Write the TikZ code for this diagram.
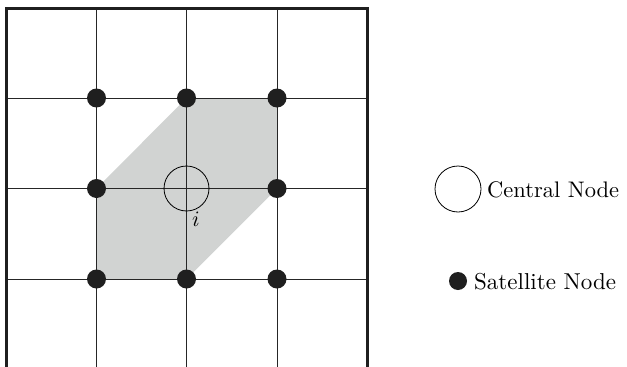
\documentclass[tikz,border=0pt]{standalone}
\begin{document}
\begin{tikzpicture}[x=1pt,y=-1pt,
  gridline/.style={line width=1pt,draw=black!85},
  frameline/.style={line width=3pt,draw=black!88},
  sat/.style={circle,fill=black!88,inner sep=0pt,minimum size=19pt},
  central/.style={circle,draw=black,line width=0.8pt,inner sep=0pt,minimum size=45pt},
  lbl/.style={inner sep=0pt}]
\useasboundingbox (0,0) rectangle (627,367);
\definecolor{hexgray}{HTML}{D1D3D2}
% shaded hexagon
\fill[hexgray] (186.5,98) -- (277,98) -- (277,188.5) -- (186.5,279) -- (96.5,279) -- (96.5,188.5) -- cycle;
% grid
\foreach \x in {96.5,186.5,277} \draw[gridline] (\x,8) -- (\x,367);
\foreach \y in {98,188.5,279} \draw[gridline] (6,\y) -- (367,\y);
% frame
\draw[frameline] (6,367) -- (6,8) -- (367,8) -- (367,367);
% central node
\node[central] (c) at (186.5,188.5) {};
\node[lbl,anchor=north] (il) at (196,212) {\scalebox{2.2}{$i$}};
% satellites
\node[sat] (s1) at (96.5,98) {};
\node[sat] (s2) at (186.5,98) {};
\node[sat] (s3) at (277,98) {};
\node[sat] (s4) at (96.5,188.5) {};
\node[sat] (s5) at (277,188.5) {};
\node[sat] (s6) at (96.5,279) {};
\node[sat] (s7) at (186.5,279) {};
\node[sat] (s8) at (277,279) {};
% legend
\node[central,minimum size=46pt] (lc) at (458,189) {};
\node[lbl,anchor=west] (lct) at (487,190) {\scalebox{2.25}{Central Node}};
\node[sat,minimum size=18pt] (ls) at (458,281) {};
\node[lbl,anchor=west] (lst) at (474,282) {\scalebox{2.3}{Satellite Node}};
\end{tikzpicture}
\end{document}
